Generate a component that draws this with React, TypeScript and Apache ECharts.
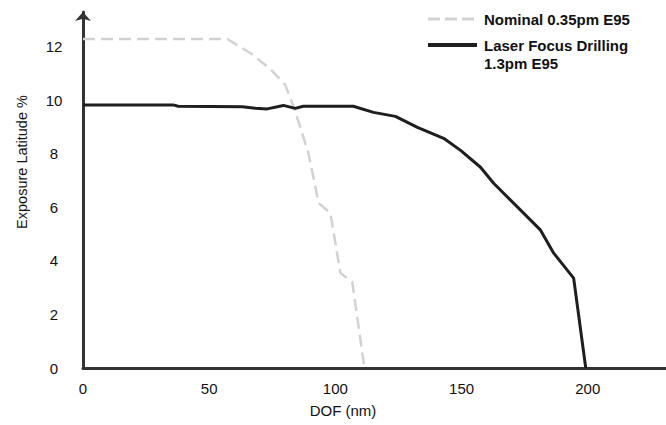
import React, { useEffect, useRef } from "react";
import * as echarts from "echarts";

// Nominal 0.35pm E95 (light dashed)
const nominalDOF = [0, 57.1, 66.3, 74.2, 80.2, 82.9, 86.1, 89.3, 92.1, 93.3, 98.0, 102.0, 106.7, 111.5];
const nominalEL = [12.29, 12.29, 11.77, 11.17, 10.57, 9.9, 9.0, 8.03, 6.76, 6.16, 5.79, 3.55, 3.21, 0];

// Laser Focus Drilling 1.3pm E95 (dark solid)
const laserDOF = [0, 35.7, 37.7, 63.1, 68.3, 73.0, 79.4, 84.1, 87.3, 107.1, 115.1, 123.8, 132.5, 142.9, 149.6, 157.5, 162.7, 170.6, 181.3, 186.5, 194.4, 199.2];
const laserEL = [9.83, 9.83, 9.78, 9.76, 9.7, 9.68, 9.81, 9.7, 9.78, 9.78, 9.55, 9.4, 8.99, 8.58, 8.13, 7.5, 6.9, 6.16, 5.15, 4.29, 3.36, 0];

const nominalName = "Nominal 0.35pm E95";
const laserName = "Laser Focus Drilling\n1.3pm E95";

const xTitle = "DOF (nm)";
const yTitle = "Exposure Latitude %";

const zip = (xs: number[], ys: number[]) => xs.map((x, i) => [x, ys[i]]);

const FONT = '"Liberation Sans", Arial, Helvetica, sans-serif';
const NOMINAL_COLOR = "#d2d2d2";
const LASER_COLOR = "#1e1e1e";

export default function App() {
  const ref = useRef<HTMLDivElement>(null);
  useEffect(() => {
    if (!ref.current) return;
    const chart = echarts.init(ref.current, undefined, { renderer: "svg" });
    chart.setOption({
      animation: false,
      backgroundColor: "#ffffff",
      textStyle: { fontFamily: FONT },
      grid: { left: 83, right: 0, top: 12, bottom: 57, containLabel: false },
      xAxis: {
        type: "value",
        min: 0,
        max: 231,
        interval: 50,
        name: xTitle,
        nameLocation: "middle",
        nameGap: 35,
        nameTextStyle: { fontSize: 15, color: "#111", fontFamily: FONT, padding: [0, 63, 0, 0] },
        axisLine: { show: true, onZero: false, lineStyle: { color: "#333", width: 3 } },
        axisTick: { show: false },
        splitLine: { show: false },
        axisLabel: { fontSize: 15, color: "#111", margin: 13, showMaxLabel: false, fontFamily: FONT },
      },
      yAxis: {
        type: "value",
        min: 0,
        max: 13.3,
        interval: 2,
        name: yTitle,
        nameLocation: "middle",
        nameGap: 54,
        nameTextStyle: { fontSize: 14.5, color: "#111", fontFamily: FONT, padding: [0, 0, 0, 56] },
        axisLine: {
          show: true,
          onZero: false,
          symbol: ["none", "arrow"],
          symbolSize: [12, 9],
          lineStyle: { color: "#333", width: 3 },
        },
        axisTick: { show: false },
        splitLine: { show: false },
        axisLabel: { fontSize: 15, color: "#111", margin: 29, align: "center", showMaxLabel: false, fontFamily: FONT },
      },
      graphic: [
        {
          type: "line",
          shape: { x1: 428, y1: 19, x2: 477, y2: 19 },
          style: { stroke: NOMINAL_COLOR, lineWidth: 3, lineDash: [12, 5] },
        },
        {
          type: "text",
          x: 484,
          y: 19,
          style: {
            text: nominalName,
            font: `bold 15px ${FONT}`,
            fill: "#111",
            verticalAlign: "middle",
            align: "left",
          },
        },
        {
          type: "line",
          shape: { x1: 428, y1: 45, x2: 477, y2: 45 },
          style: { stroke: LASER_COLOR, lineWidth: 4 },
        },
        {
          type: "text",
          x: 484,
          y: 36,
          style: {
            text: laserName,
            font: `bold 15px ${FONT}`,
            fill: "#111",
            lineHeight: 18,
            verticalAlign: "top",
            align: "left",
          },
        },
      ],
      series: [
        {
          name: nominalName,
          type: "line",
          data: zip(nominalDOF, nominalEL),
          symbol: "none",
          showSymbol: false,
          lineStyle: { color: NOMINAL_COLOR, width: 2.5, type: [12, 6] },
          itemStyle: { color: NOMINAL_COLOR },
          z: 2,
        },
        {
          name: laserName,
          type: "line",
          data: zip(laserDOF, laserEL),
          symbol: "none",
          showSymbol: false,
          lineStyle: { color: LASER_COLOR, width: 3 },
          itemStyle: { color: LASER_COLOR },
          z: 3,
        },
      ],
    });
    return () => chart.dispose();
  }, []);
  return (
    <div
      ref={ref}
      style={{ position: "fixed", left: 0, top: 0, width: 666, height: 425, background: "#fff" }}
    />
  );
}
